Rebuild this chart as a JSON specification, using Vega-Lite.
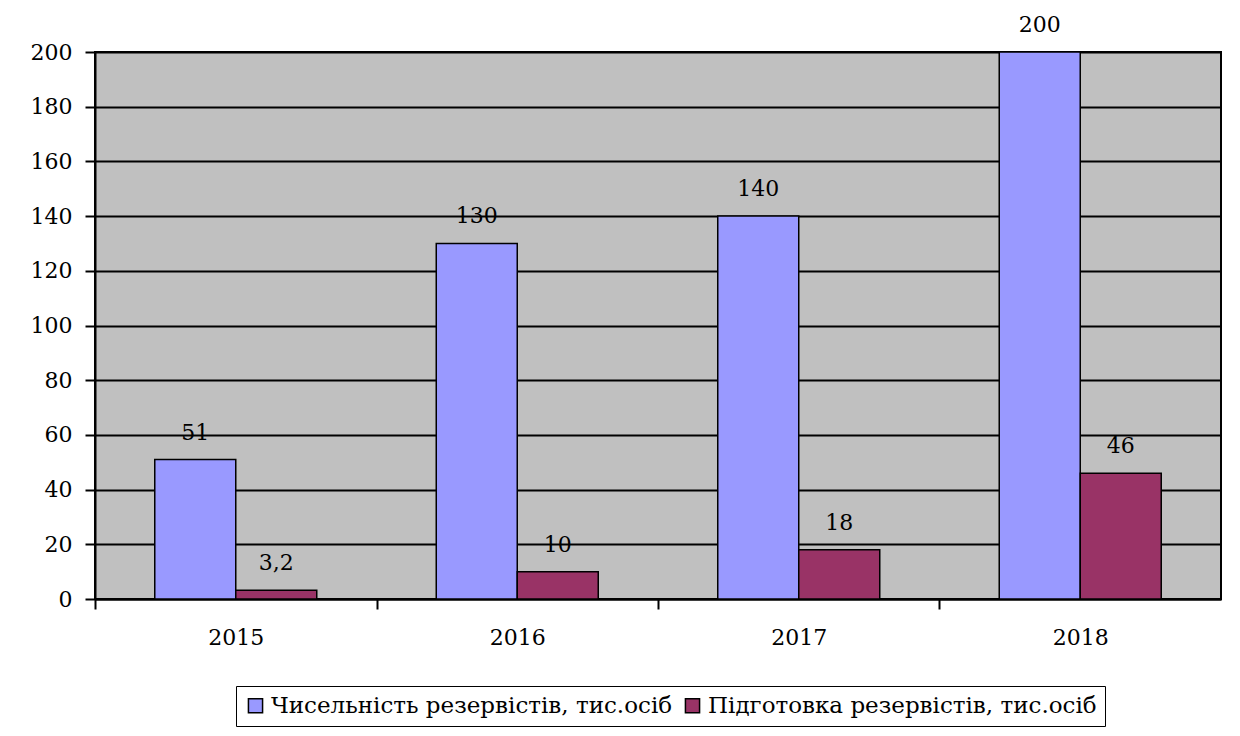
{
  "$schema": "https://vega.github.io/schema/vega-lite/v6.json",
  "width": 1126,
  "height": 547,
  "autosize": {"type": "none"},
  "padding": {"left": 95, "top": 52, "right": 19, "bottom": 137},
  "background": "white",
  "data": {"values": [
    {"year": "2015", "series": "Чисельність резервістів, тис.осіб", "value": 51, "label": "51"},
    {"year": "2015", "series": "Підготовка резервістів, тис.осіб", "value": 3.2, "label": "3,2"},
    {"year": "2016", "series": "Чисельність резервістів, тис.осіб", "value": 130, "label": "130"},
    {"year": "2016", "series": "Підготовка резервістів, тис.осіб", "value": 10, "label": "10"},
    {"year": "2017", "series": "Чисельність резервістів, тис.осіб", "value": 140, "label": "140"},
    {"year": "2017", "series": "Підготовка резервістів, тис.осіб", "value": 18, "label": "18"},
    {"year": "2018", "series": "Чисельність резервістів, тис.осіб", "value": 200, "label": "200"},
    {"year": "2018", "series": "Підготовка резервістів, тис.осіб", "value": 46, "label": "46"}
  ]},
  "encoding": {
    "x": {
      "field": "year", "type": "nominal",
      "scale": {"paddingInner": 0.4245, "paddingOuter": 0.2123},
      "axis": {
        "title": null, "labelAngle": 0, "tickOffset": -140.75, "labelOffset": 140.75,
        "labelPadding": 18
      }
    },
    "xOffset": {"field": "series", "type": "nominal", "sort": ["Чисельність резервістів, тис.осіб", "Підготовка резервістів, тис.осіб"]},
    "y": {
      "field": "value", "type": "quantitative",
      "scale": {"domain": [0, 200], "nice": false},
      "axis": {"title": null, "values": [0, 20, 40, 60, 80, 100, 120, 140, 160, 180, 200], "grid": true, "labelPadding": 13}
    }
  },
  "layer": [
    {
      "mark": {"type": "bar", "stroke": "black", "strokeWidth": 1.5},
      "encoding": {
        "color": {
          "field": "series", "type": "nominal",
          "sort": ["Чисельність резервістів, тис.осіб", "Підготовка резервістів, тис.осіб"],
          "scale": {"domain": ["Чисельність резервістів, тис.осіб", "Підготовка резервістів, тис.осіб"], "range": ["#9999FF", "#993366"]},
          "legend": {
            "title": null, "orient": "none", "legendX": 141, "legendY": 634, "direction": "horizontal",
            "strokeColor": "black", "padding": 8, "symbolType": "square", "symbolSize": 200,
            "symbolStrokeColor": "black", "symbolStrokeWidth": 1.5, "symbolOpacity": 1,
            "labelFont": "DejaVu Serif", "labelFontSize": 23, "labelColor": "black",
            "labelLimit": 0, "columnPadding": 8, "labelOffset": 4
          }
        }
      }
    },
    {
      "mark": {"type": "text", "baseline": "alphabetic", "dy": -20, "font": "DejaVu Serif", "fontSize": 22, "color": "black"},
      "encoding": {"text": {"field": "label", "type": "nominal"}}
    }
  ],
  "config": {
    "view": {"fill": "#C0C0C0", "stroke": "black", "strokeWidth": 2},
    "axis": {
      "labelFont": "DejaVu Serif", "labelFontSize": 22, "labelColor": "black",
      "domainColor": "black", "domainWidth": 2, "tickColor": "black", "tickWidth": 2, "tickSize": 10,
      "gridColor": "black", "gridWidth": 2
    }
  }
}
